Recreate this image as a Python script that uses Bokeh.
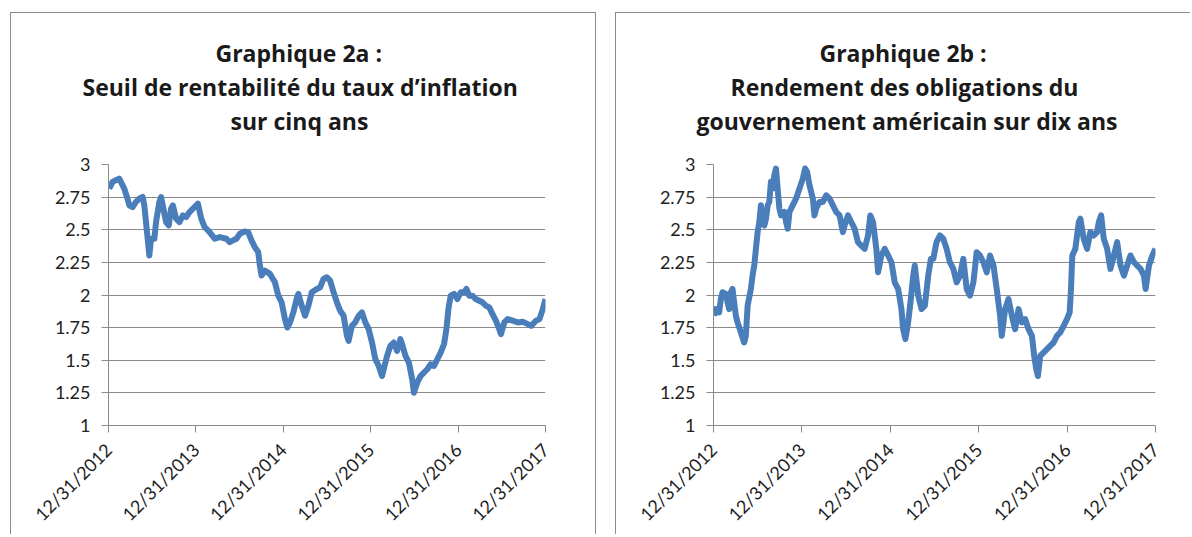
import math
from bokeh.plotting import figure
from bokeh.models import Range1d, FixedTicker, Title, Spacer
from bokeh.layouts import row, column
from bokeh.embed import file_html
from bokeh.resources import INLINE

# ---- data (years since 12/31/2012, percent) ----
t_a = [0.008, 0.046, 0.084, 0.123, 0.161, 0.180, 0.218, 0.238, 0.276, 0.314, 0.352, 0.391, 0.410,
       0.429, 0.448, 0.467, 0.487, 0.525, 0.544, 0.582, 0.602, 0.621, 0.659, 0.690, 0.716, 0.736,
       0.774, 0.812, 0.851, 0.889, 0.927, 0.966, 1.004, 1.023, 1.061, 1.100, 1.157, 1.215, 1.272,
       1.349, 1.387, 1.425, 1.464, 1.502, 1.559, 1.598, 1.636, 1.674, 1.713, 1.732, 1.751, 1.789,
       1.847, 1.904, 1.943, 1.981, 2.019, 2.046, 2.077, 2.115, 2.153, 2.172, 2.211, 2.249, 2.287,
       2.326, 2.383, 2.421, 2.460, 2.498, 2.536, 2.575, 2.613, 2.651, 2.690, 2.728, 2.747, 2.785,
       2.823, 2.862, 2.900, 2.938, 2.977, 3.015, 3.053, 3.092, 3.130, 3.168, 3.187, 3.225, 3.264,
       3.302, 3.340, 3.360, 3.398, 3.437, 3.475, 3.494, 3.532, 3.570, 3.609, 3.647, 3.685, 3.724,
       3.762, 3.800, 3.839, 3.866, 3.889, 3.915, 3.954, 3.992, 4.030, 4.069, 4.095, 4.126, 4.164,
       4.202, 4.241, 4.279, 4.317, 4.356, 4.394, 4.432, 4.471, 4.490, 4.529, 4.567, 4.624, 4.682,
       4.739, 4.797, 4.835, 4.892, 4.931, 4.969, 5.000]
breakeven_5y = [2.815, 2.867, 2.879, 2.892, 2.841, 2.815, 2.738, 2.687, 2.674, 2.713, 2.738, 2.751, 2.687,
                2.559, 2.431, 2.303, 2.431, 2.431, 2.559, 2.713, 2.751, 2.687, 2.559, 2.533, 2.662, 2.687,
                2.585, 2.559, 2.610, 2.597, 2.636, 2.662, 2.687, 2.700, 2.585, 2.521, 2.482, 2.431, 2.444,
                2.431, 2.405, 2.418, 2.431, 2.469, 2.487, 2.482, 2.418, 2.367, 2.328, 2.226, 2.149, 2.187,
                2.162, 2.097, 1.995, 1.944, 1.815, 1.751, 1.790, 1.867, 1.969, 2.008, 1.918, 1.841, 1.918,
                2.021, 2.046, 2.059, 2.123, 2.136, 2.110, 2.021, 1.944, 1.879, 1.841, 1.687, 1.649, 1.764,
                1.790, 1.841, 1.867, 1.790, 1.738, 1.636, 1.508, 1.456, 1.379, 1.482, 1.533, 1.610, 1.636,
                1.572, 1.662, 1.623, 1.533, 1.482, 1.354, 1.251, 1.328, 1.379, 1.405, 1.431, 1.469, 1.456,
                1.508, 1.559, 1.623, 1.738, 1.892, 1.995, 2.008, 1.969, 2.021, 2.021, 2.046, 1.995, 1.995,
                1.969, 1.956, 1.944, 1.918, 1.905, 1.854, 1.803, 1.738, 1.700, 1.790, 1.815, 1.803, 1.790,
                1.795, 1.777, 1.764, 1.803, 1.815, 1.892, 1.969]

t_b = [0.007, 0.026, 0.064, 0.083, 0.102, 0.140, 0.159, 0.177, 0.196, 0.215, 0.234, 0.253, 0.272,
       0.310, 0.347, 0.366, 0.386, 0.423, 0.442, 0.461, 0.480, 0.499, 0.518, 0.537, 0.556, 0.575,
       0.594, 0.613, 0.631, 0.650, 0.669, 0.688, 0.707, 0.726, 0.745, 0.764, 0.802, 0.821, 0.840,
       0.859, 0.896, 0.934, 0.972, 1.010, 1.036, 1.059, 1.086, 1.124, 1.142, 1.161, 1.199, 1.237,
       1.275, 1.313, 1.351, 1.388, 1.426, 1.464, 1.483, 1.521, 1.558, 1.596, 1.634, 1.672, 1.710,
       1.748, 1.774, 1.805, 1.842, 1.862, 1.899, 1.937, 1.975, 2.013, 2.050, 2.089, 2.126, 2.145,
       2.171, 2.202, 2.232, 2.259, 2.277, 2.316, 2.353, 2.391, 2.429, 2.459, 2.486, 2.523, 2.561,
       2.599, 2.637, 2.674, 2.713, 2.750, 2.788, 2.826, 2.864, 2.901, 2.940, 2.977, 3.015, 3.053,
       3.091, 3.128, 3.167, 3.204, 3.242, 3.261, 3.299, 3.337, 3.375, 3.412, 3.451, 3.488, 3.526,
       3.564, 3.602, 3.628, 3.651, 3.670, 3.696, 3.734, 3.772, 3.809, 3.848, 3.885, 3.923, 3.961,
       3.999, 4.029, 4.044, 4.059, 4.093, 4.132, 4.150, 4.188, 4.226, 4.263, 4.302, 4.339, 4.359,
       4.385, 4.415, 4.453, 4.490, 4.529, 4.566, 4.604, 4.643, 4.680, 4.717, 4.756, 4.793, 4.831,
       4.869, 4.888, 4.926, 4.964, 5.000]
treasury_10y = [1.841, 1.892, 1.867, 1.969, 2.021, 2.008, 1.944, 1.892, 2.021, 2.046, 1.944, 1.841, 1.790,
                1.713, 1.636, 1.687, 1.918, 2.046, 2.149, 2.226, 2.354, 2.482, 2.559, 2.687, 2.559, 2.533,
                2.585, 2.687, 2.713, 2.867, 2.815, 2.918, 2.969, 2.815, 2.662, 2.610, 2.636, 2.559, 2.508,
                2.636, 2.687, 2.738, 2.815, 2.892, 2.969, 2.944, 2.841, 2.738, 2.610, 2.662, 2.713, 2.713,
                2.764, 2.738, 2.687, 2.636, 2.610, 2.482, 2.533, 2.610, 2.559, 2.508, 2.405, 2.379, 2.354,
                2.456, 2.610, 2.559, 2.354, 2.174, 2.303, 2.354, 2.303, 2.251, 2.097, 2.046, 1.892, 1.738,
                1.662, 1.790, 1.969, 2.149, 2.226, 1.995, 1.892, 1.918, 2.149, 2.277, 2.277, 2.405, 2.456,
                2.431, 2.354, 2.251, 2.200, 2.097, 2.149, 2.277, 2.046, 1.995, 2.097, 2.328, 2.303, 2.251,
                2.174, 2.303, 2.226, 2.046, 1.841, 1.687, 1.892, 1.969, 1.841, 1.738, 1.892, 1.790, 1.815,
                1.738, 1.687, 1.533, 1.431, 1.379, 1.533, 1.559, 1.585, 1.610, 1.636, 1.687, 1.713, 1.764,
                1.815, 1.867, 2.046, 2.303, 2.354, 2.559, 2.585, 2.431, 2.354, 2.482, 2.456, 2.482, 2.559,
                2.610, 2.431, 2.354, 2.200, 2.303, 2.405, 2.226, 2.149, 2.226, 2.303, 2.251, 2.226, 2.200,
                2.149, 2.046, 2.226, 2.303, 2.354]

x_ticks = [0, 1, 2, 3, 4, 5]
x_labels = ["12/31/2012", "12/31/2013", "12/31/2014", "12/31/2015", "12/31/2016", "12/31/2017"]
y_ticks = [1, 1.25, 1.5, 1.75, 2, 2.25, 2.5, 2.75, 3]
y_labels = ["1", "1.25", "1.5", "1.75", "2", "2.25", "2.5", "2.75", "3"]

titles_a = ["Graphique 2a :", "Seuil de rentabilité du taux d\u2019inflation", "sur cinq ans"]
titles_b = ["Graphique 2b :", "Rendement des obligations du", "gouvernement américain sur dix ans"]

LINE = "#4a7ebb"
GRID = "#8a8a8a"
TXT = "#222222"
BORDER = "#8c8c8c"


def make(tx, vals, titles, offsets, frame_w, mb_left, mb_right, borders):
    p = figure(frame_width=frame_w, frame_height=260, output_backend="svg", toolbar_location=None,
               x_range=Range1d(0, 5), y_range=Range1d(1, 3),
               min_border_left=mb_left, min_border_right=mb_right,
               min_border_top=151, min_border_bottom=0)
    p.styles = borders
    p.outline_line_color = None
    p.background_fill_color = "white"
    p.border_fill_color = "white"
    p.xgrid.grid_line_color = None
    p.ygrid.grid_line_color = GRID
    p.ygrid.grid_line_width = 1
    p.ygrid.ticker = FixedTicker(ticks=y_ticks)

    p.xaxis.ticker = FixedTicker(ticks=x_ticks)
    p.xaxis.major_label_overrides = {t: l for t, l in zip(x_ticks, x_labels)}
    p.xaxis.major_label_orientation = math.pi / 4
    p.yaxis.ticker = FixedTicker(ticks=y_ticks)
    p.yaxis.major_label_overrides = {t: l for t, l in zip(y_ticks, y_labels)}
    for ax in (p.xaxis, p.yaxis):
        ax.axis_line_color = GRID
        ax.major_tick_line_color = GRID
        ax.major_tick_in = 0
        ax.major_tick_out = 7
        ax.minor_tick_line_color = None
        ax.major_label_text_font = "Lato"
        ax.major_label_text_font_size = "18px"
        ax.major_label_text_color = TXT
    p.yaxis.major_label_standoff = 11
    p.xaxis.major_label_standoff = 14

    p.line(tx, vals, line_color=LINE, line_width=6, line_join="round")

    # gap between the title block and the plot
    p.add_layout(Title(text="\u00a0", text_font_size="10px", standoff=15), "above")
    for txt, off in reversed(list(zip(titles, offsets))):
        p.add_layout(Title(text=txt, align="left", offset=off, standoff=0,
                           text_font="Open Sans", text_font_style="bold",
                           text_font_size="23px", text_color="#1a1a1a"), "above")
    return p


b = "1px solid " + BORDER
p1 = make(t_a, breakeven_5y, titles_a, [107, -26, 122], 435, 97, 52,
          {"border-top": b, "border-left": b, "border-right": b})
p2 = make(t_b, treasury_10y, titles_b, [106, 17, -17], 441, 97, 36,
          {"border-top": b, "border-left": b})

layout = column(Spacer(height=12), row(Spacer(width=10), p1, Spacer(width=19), p2))
open("out.html", "w").write(file_html(layout, INLINE))
